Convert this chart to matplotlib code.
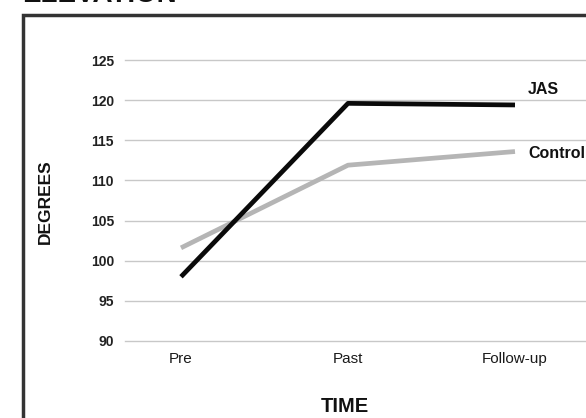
import matplotlib
matplotlib.use("Agg")
import matplotlib.pyplot as plt
from matplotlib.patches import Rectangle

categories = ["Pre", "Past", "Follow-up"]
jas = [98.0, 119.6, 119.4]
control = [101.6, 111.9, 113.6]
yticks = [90, 95, 100, 105, 110, 115, 120, 125]

W, H = 586, 418
fig = plt.figure(figsize=(W / 100, H / 100), dpi=100)
plt.rcParams['font.family'] = ['Liberation Sans', 'DejaVu Sans']

# Frame (extends past right/bottom edges)
fig.patches.append(Rectangle((23 / W, -0.1), 1.2, (H - 15) / H + 0.1,
                             transform=fig.transFigure, fill=False,
                             edgecolor="#333333", linewidth=2.5))

# Title (mostly cut off at the top)
fig.text(22 / W, 1 - 2 / H, "ELEVATION", fontsize=20, fontweight="heavy",
         ha="left", va="baseline", color="#111111")

left, right = 125, 586
top, bottom = 60, 341
ax = fig.add_axes([left / W, (H - bottom) / H, (right - left) / W, (bottom - top) / H])
ax.set_ylim(90, 125)
px_per_unit = (515 - 181) / 2
ax.set_xlim(-(181 - left) / px_per_unit, 2 + (right - 515) / px_per_unit)

for v in yticks:
    ax.axhline(v, color="#c8c8c8", linewidth=1.0, zorder=1, clip_on=False)

x = list(range(len(categories)))
ax.plot(x, control, color="#b5b5b5", linewidth=3.4, zorder=2, clip_on=False,
        solid_capstyle="butt")
ax.plot(x, jas, color="#0a0a0a", linewidth=3.4, zorder=3, clip_on=False,
        solid_capstyle="butt")

ax.set_yticks(yticks)
ax.set_yticklabels([str(v) for v in yticks], fontsize=10, fontweight="bold",
                   color="#222222")
ax.set_xticks(x)
ax.set_xticklabels(categories, fontsize=11, color="#1a1a1a")
ax.tick_params(axis="y", length=0, pad=8)
ax.tick_params(axis="x", length=0, pad=8)
for s in ax.spines.values():
    s.set_visible(False)
ax.patch.set_alpha(0)

ax.text(2 + 13 / px_per_unit, jas[2] + 1.9, "JAS", fontsize=11.5, fontweight="bold",
        ha="left", va="center", color="#111111")
ax.text(2 + 13 / px_per_unit, control[2] - 0.2, "Control", fontsize=11.5, fontweight="bold",
        ha="left", va="center", color="#111111")

fig.text(345 / W, 1 - 407 / H, "TIME", fontsize=14.5, fontweight="heavy",
         ha="center", va="center", color="#111111")
fig.text(45 / W, 1 - 202 / H, "DEGREES", fontsize=12.5, fontweight="heavy",
         ha="center", va="center", rotation=90, color="#111111")

fig.savefig("out.png", dpi=100)
